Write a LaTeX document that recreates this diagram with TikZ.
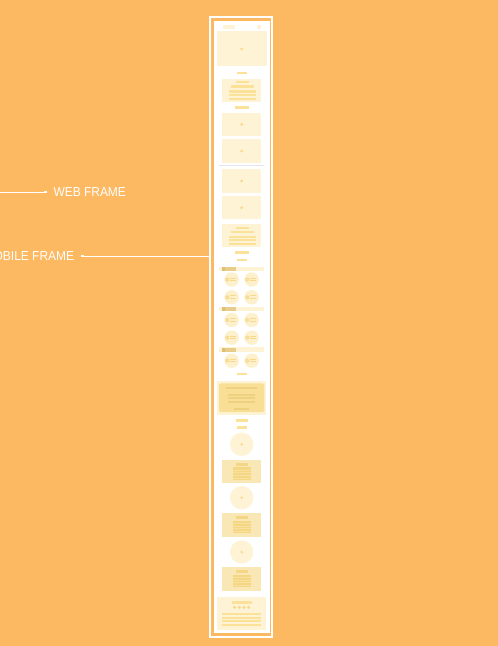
\documentclass[tikz,border=0pt]{standalone}
\usepackage{fontspec}
\setmainfont{Liberation Sans}[FakeStretch=0.92]
\definecolor{bgc}{RGB}{252,185,97}
\definecolor{cream}{RGB}{254,243,213}
\definecolor{barc}{RGB}{252,226,152}
\definecolor{iconc}{RGB}{250,216,138}
\definecolor{tanbox}{RGB}{250,231,182}
\definecolor{tanbar}{RGB}{245,214,130}
\definecolor{bigin}{RGB}{249,222,150}
\definecolor{bigbar}{RGB}{234,202,120}
\definecolor{catlbl}{RGB}{232,204,138}
\definecolor{catdark}{RGB}{222,190,115}
\definecolor{circc}{RGB}{253,240,205}
\definecolor{sepc}{RGB}{228,228,238}
\begin{document}
\begin{tikzpicture}[x=1pt,y=-1pt,
  lbl/.style={text=white,font=\fontsize{13}{13}\selectfont,inner sep=0pt},
  conn/.style={white,line width=1pt},
  sq/.style={fill=white,minimum size=2.6pt,inner sep=0pt},
  pane/.style={fill=cream},
  barf/.style={fill=barc},
  icn/.style={fill=iconc}]
\useasboundingbox (0,0) rectangle (498,646);
\fill[bgc] (0,0) rectangle (498,646);
% frames
\draw[white,line width=2pt] (210,17) rectangle (272,637);
\fill[white] (214,21) rectangle (270,633);
% header
\fill[pane] (223,25) rectangle (235,29);
\fill[pane] (257,25) rectangle (261,29);
% hero
\fill[pane] (217,31) rectangle (267,66);
\fill[icn] (241.7,49) circle (1.5);
\fill[barf] (237,71.7) rectangle (247,74);
% box 1
\fill[pane] (222,78.7) rectangle (261,102);
\fill[barf] (235.7,80.7) rectangle (249,83.3);
\fill[barf] (231,85) rectangle (253.7,87.7);
\foreach \yy in {90.3,94,97.7} \fill[barf] (229,\yy) rectangle (255.7,\yy+2.3);
\fill[barf] (235,106) rectangle (249,108.7);
% image boxes
\foreach \yy in {112.7,139.3,169.3,196} {
  \fill[pane] (222,\yy) rectangle (261,\yy+23.3);
  \fill[icn] (241.7,\yy+11.7) circle (1.5);
}
\draw[sepc,line width=0.8pt] (219,165.7) -- (264,165.7);
% box 6
\fill[pane] (222,224) rectangle (261,247.3);
\fill[barf] (235.7,226.7) rectangle (249,229);
\fill[barf] (231,230.7) rectangle (253.7,233);
\foreach \yy in {236,239.3,242.7} \fill[barf] (229,\yy) rectangle (255.7,\yy+2);
\fill[barf] (235,250.7) rectangle (249,253.7);
\fill[barf] (237,259) rectangle (247,261);
% category bars
\foreach \yy in {266.7,306.7,347.3} {
  \fill[pane] (219,\yy) rectangle (264,\yy+4.6);
  \fill[catlbl] (222,\yy+0.4) rectangle (236.3,\yy+4.2);
  \fill[catdark] (222,\yy+0.4) rectangle (224.7,\yy+4.2);
}
% circle items
\foreach \yy in {279.5,297.3,320,337.7,360.7} \foreach \xx in {231.7,251.7} {
  \fill[circc] (\xx,\yy) circle (7.2);
  \fill[iconc] (\xx-4.5,\yy) circle (2);
  \fill[circc!60!iconc] (\xx-4.5,\yy) circle (0.8);
  \fill[iconc] (\xx-2,\yy-2) rectangle (\xx+4.7,\yy-0.9);
  \fill[iconc] (\xx-2,\yy+0.6) rectangle (\xx+4.7,\yy+1.7);
}
\fill[barf] (237,372.7) rectangle (247,375);
% big box
\fill[pane] (217,380.7) rectangle (266,415.3);
\fill[bigin,rounded corners=1.5pt] (219,383.3) rectangle (264.3,412);
\fill[bigbar!70!bigin] (226,387) rectangle (257,389.3);
\foreach \yy in {394.2,397.4,400.6} \fill[bigbar!70!bigin] (228.3,\yy) rectangle (255,\yy+2);
\fill[bigbar!70!bigin] (234.3,407.5) rectangle (249,409.7);
\fill[barf] (235.7,419.3) rectangle (248.3,422);
\fill[barf] (237,426) rectangle (247,428.7);
% circle + text blocks
\foreach \cy/\by in {444.3/460,497.7/513.3,552/567.3} {
  \fill[pane] (241.7,\cy) circle (11.7);
  \fill[icn] (241.7,\cy) circle (1.3);
  \fill[tanbox] (222,\by) rectangle (261,\by+23.3);
  \fill[tanbar] (235.7,\by+2.7) rectangle (247.7,\by+6);
  \fill[tanbar] (233,\by+7.3) rectangle (251,\by+20);
  \foreach \k in {1,2,3,4} \fill[tanbox!60!tanbar] (233,\by+7.3+\k*2.55) rectangle (251,\by+7.9+\k*2.55);
}
% footer
\fill[pane] (217,596.7) rectangle (266,630);
\fill[barf] (231.7,600.7) rectangle (251.7,603.5);
\foreach \xx in {234.6,239.3,244,248.7} \fill[iconc] (\xx,607.3) circle (1.7);
\fill[barf] (222.3,612.7) rectangle (261,615.3);
\fill[barf] (222.3,616.7) rectangle (261,618.7);
\fill[barf] (222.3,620) rectangle (261,622);
\fill[barf] (222.3,624.4) rectangle (261,626.4);
% labels and connectors
\node[lbl,anchor=west] (web) at (53.3,192) {WEB FRAME};
\coordinate (webstart) at (-2,192);
\node[sq] (websq) at (45.2,192) {};
\draw[conn] (webstart) -- (websq.center);
\node[lbl,anchor=east] (mob) at (74.3,256) {MOBILE FRAME};
\node[sq] (mobsq) at (82.7,256) {};
\coordinate (frameL) at (210,256);
\draw[conn] (mobsq.center) -- (frameL);
\end{tikzpicture}
\end{document}
